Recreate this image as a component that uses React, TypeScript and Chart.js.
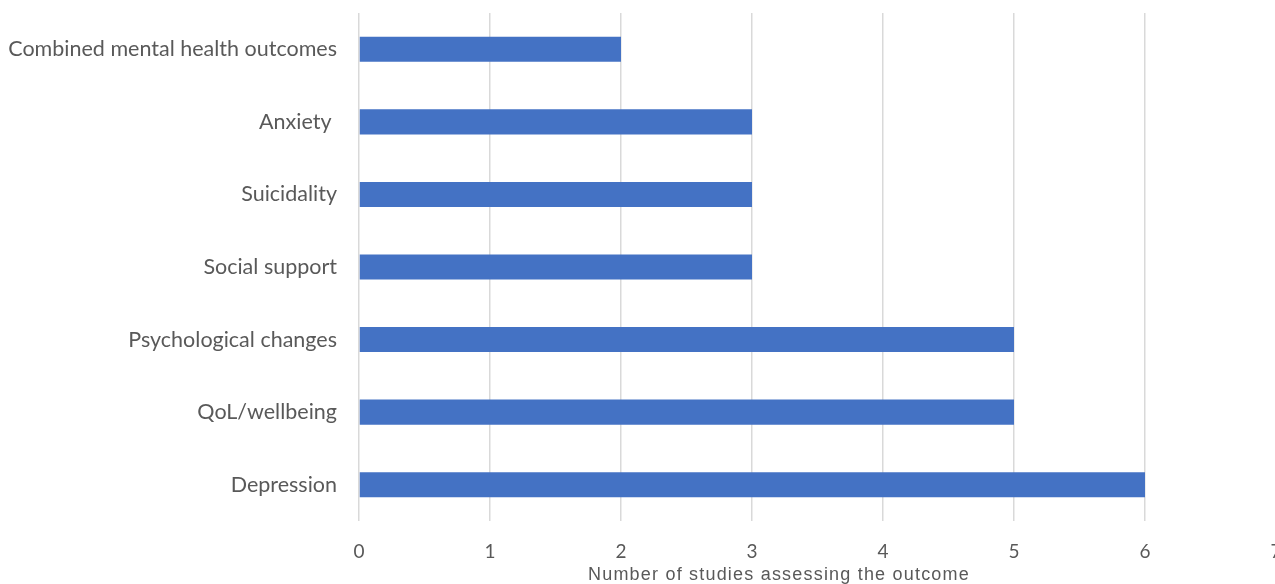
import React, { useEffect, useRef } from "react";
import { Chart, registerables } from "chart.js";

Chart.register(...registerables);

const outcomes = [
  "Combined mental health outcomes",
  "Anxiety ",
  "Suicidality",
  "Social support",
  "Psychological changes",
  "QoL/wellbeing",
  "Depression",
];
const studyCounts = [2, 3, 3, 3, 5, 5, 6];
const axisCaption = "Number of studies assessing the outcome";

const LABEL_FONT = "Lato, 'Open Sans', sans-serif";
const TEXT_GREY = "#595959";

// Draws the x-axis caption below the tick labels, with a little tracking.
const captionPlugin = {
  id: "axisCaption",
  afterDraw(chart: any) {
    const { ctx, chartArea } = chart;
    ctx.save();
    ctx.font = "18px 'Liberation Sans', Arial, sans-serif";
    ctx.fillStyle = TEXT_GREY;
    ctx.textAlign = "center";
    ctx.textBaseline = "middle";
    (ctx as any).letterSpacing = "1.2px";
    const x = chartArea.left + (chartArea.right - chartArea.left) * 0.458;
    ctx.fillText(axisCaption, x, chartArea.bottom + 54);
    ctx.restore();
  },
};

export default function App() {
  const canvasRef = useRef<HTMLCanvasElement | null>(null);

  useEffect(() => {
    if (!canvasRef.current) return;
    const chart = new Chart(canvasRef.current, {
      type: "bar",
      data: {
        labels: outcomes,
        datasets: [
          {
            data: studyCounts,
            backgroundColor: "#4472C4",
            borderWidth: 0,
            barPercentage: 0.345,
            categoryPercentage: 1,
          },
        ],
      },
      options: {
        indexAxis: "y",
        animation: false,
        responsive: false,
        maintainAspectRatio: false,
        layout: { padding: { top: 13, right: 14, bottom: 0, left: 0 } },
        plugins: {
          legend: { display: false },
          tooltip: { enabled: false },
        },
        scales: {
          x: {
            min: 0,
            max: 7,
            ticks: {
              stepSize: 1,
              padding: 19,
              color: TEXT_GREY,
              font: { family: LABEL_FONT, size: 19 },
            },
            grid: {
              color: "#d9d9d9",
              lineWidth: 1.5,
              drawTicks: false,
            },
            border: { display: false },
            afterFit(scale: any) {
              scale.height = 63;
              scale.paddingLeft = 0;
              scale.paddingRight = 0;
            },
          },
          y: {
            ticks: {
              padding: 22,
              color: TEXT_GREY,
              font: { family: LABEL_FONT, size: 21.5 },
            },
            grid: { display: false, drawTicks: false },
            border: { display: false },
            afterFit(scale: any) {
              scale.width = 359;
              scale.paddingTop = 0;
              scale.paddingBottom = 0;
            },
          },
        },
      },
      plugins: [captionPlugin],
    });
    return () => chart.destroy();
  }, []);

  return (
    <div
      style={{
        position: "fixed",
        left: 0,
        top: 0,
        width: 1275,
        height: 584,
        overflow: "hidden",
        background: "#ffffff",
      }}
    >
      <canvas ref={canvasRef} width={1290} height={584} style={{ display: "block" }} />
    </div>
  );
}
